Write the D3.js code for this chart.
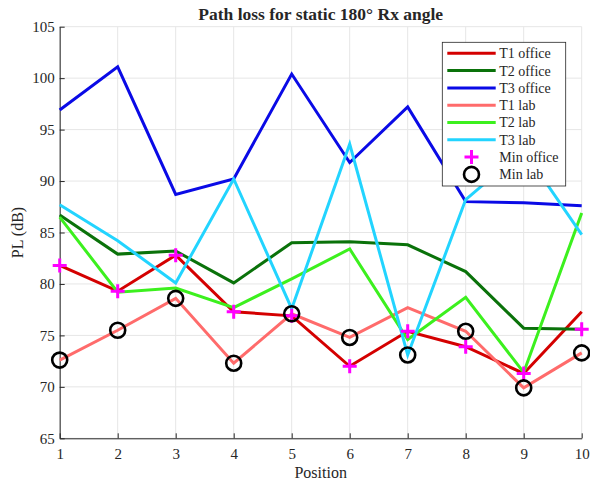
<!DOCTYPE html>
<html>
<head>
<meta charset="utf-8">
<script src="https://cdn.jsdelivr.net/npm/d3@7"></script>
<style>
  body { margin: 0; background: #fff; }
  text { font-family: "Liberation Serif", "Times New Roman", serif; fill: #262626; }
</style>
</head>
<body>
<svg id="chart" width="590" height="483"></svg>
<script>
// valores
const posicoes = [1, 2, 3, 4, 5, 6, 7, 8, 9, 10];
const t1Office = [81.8, 79.3, 82.8, 77.3, 76.9, 72.0, 75.4, 73.9, 71.3, 77.3];
const t2Office = [86.7, 82.9, 83.2, 80.1, 84.0, 84.1, 83.8, 81.2, 75.7, 75.6];
const t3Office = [96.9, 101.1, 88.7, 90.2, 100.4, 91.8, 97.2, 88.0, 87.9, 87.6];
const t1Lab = [72.6, 75.5, 78.6, 72.3, 77.1, 74.8, 77.7, 75.4, 69.9, 73.3];
const t2Lab = [86.5, 79.2, 79.6, 77.7, 80.5, 83.4, 74.6, 78.7, 71.4, 86.9];
const t3Lab = [87.7, 84.2, 80.1, 90.2, 77.6, 93.6, 73.1, 88.2, 93.0, 84.8];
const minOffice = [81.8, 79.3, 82.8, 77.3, 76.9, 72.0, 75.4, 73.9, 71.3, 75.6];
const minLab = [72.6, 75.5, 78.6, 72.3, 77.1, 74.8, 73.1, 75.4, 69.9, 73.3];
const yTicks = [65, 70, 75, 80, 85, 90, 95, 100, 105];

const series = [
    {nome: "T1 office", valores: t1Office, cor: "#d40000"},
    {nome: "T2 office", valores: t2Office, cor: "#0a720a"},
    {nome: "T3 office", valores: t3Office, cor: "#0a0ae6"},
    {nome: "T1 lab", valores: t1Lab, cor: "#ff6b6b"},
    {nome: "T2 lab", valores: t2Lab, cor: "#3cf01e"},
    {nome: "T3 lab", valores: t3Lab, cor: "#22d4ff"}
];

const fonte = "Liberation Serif, Times New Roman, serif";
const svg = d3.select("#chart");
const margin = {top: 26.7, right: 8.3, bottom: 44.7, left: 59.7};
const width = 590, height = 483;

const x = d3.scaleLinear().domain([1, 10]).range([margin.left, width - margin.right]);
const y = d3.scaleLinear().domain([65, 105]).range([height - margin.bottom, margin.top]);

// grade
svg.append("g").selectAll("line")
    .data(posicoes)
    .enter().append("line")
    .attr("x1", d => x(d)).attr("x2", d => x(d))
    .attr("y1", y(65)).attr("y2", y(105))
    .attr("stroke", "#e6e6e6").attr("stroke-width", 1);
svg.append("g").selectAll("line")
    .data(yTicks)
    .enter().append("line")
    .attr("x1", x(1)).attr("x2", x(10))
    .attr("y1", d => y(d)).attr("y2", d => y(d))
    .attr("stroke", "#e6e6e6").attr("stroke-width", 1);

// eixos
let eixoX = svg.append("g")
    .attr("transform", "translate(0," + y(65) + ")")
    .call(d3.axisBottom(x).tickValues(posicoes).tickFormat(d3.format("d")).tickSizeInner(-5).tickSizeOuter(0).tickPadding(10));
let eixoY = svg.append("g")
    .attr("transform", "translate(" + x(1) + ",0)")
    .call(d3.axisLeft(y).tickValues(yTicks).tickSizeInner(-5).tickSizeOuter(0).tickPadding(5));
[eixoX, eixoY].forEach(e => {
    e.attr("font-family", fonte);
    e.selectAll("path, line").attr("stroke", "#262626");
    e.selectAll("text").attr("fill", "#262626").attr("font-size", 15);
});

// linhas
const linha = d3.line()
    .x((d, i) => x(posicoes[i]))
    .y(d => y(d));

svg.append("g").selectAll("path")
    .data(series)
    .enter().append("path")
    .attr("d", d => linha(d.valores))
    .attr("fill", "none")
    .attr("stroke", d => d.cor)
    .attr("stroke-width", 3);

// marcadores
let cruz = (cx, cy, s) => "M" + (cx - s) + "," + cy + "H" + (cx + s) + "M" + cx + "," + (cy - s) + "V" + (cy + s);

svg.append("g").selectAll("path")
    .data(minOffice)
    .enter().append("path")
    .attr("d", (d, i) => cruz(x(posicoes[i]), y(d), 7))
    .attr("stroke", "#ff00ff")
    .attr("stroke-width", 3)
    .attr("fill", "none");

svg.append("g").selectAll("circle")
    .data(minLab)
    .enter().append("circle")
    .attr("cx", (d, i) => x(posicoes[i]))
    .attr("cy", d => y(d))
    .attr("r", 7.5)
    .attr("fill", "none")
    .attr("stroke", "#000")
    .attr("stroke-width", 2.6);

// titulo e rotulos
svg.append("text")
    .attr("x", (x(1) + x(10)) / 2)
    .attr("y", 20)
    .attr("text-anchor", "middle")
    .attr("font-family", fonte)
    .attr("font-weight", "bold")
    .attr("font-size", 17.5)
    .attr("fill", "#000")
    .text("Path loss for static 180° Rx angle");

svg.append("text")
    .attr("x", (x(1) + x(10)) / 2)
    .attr("y", 478)
    .attr("text-anchor", "middle")
    .attr("font-family", fonte)
    .attr("font-size", 16)
    .text("Position");

svg.append("text")
    .attr("transform", "translate(23," + ((y(65) + y(105)) / 2) + ") rotate(-90)")
    .attr("text-anchor", "middle")
    .attr("font-family", fonte)
    .attr("font-size", 16)
    .text("PL (dB)");

// legenda
const legX = 442.3, legY = 42.3;
svg.append("rect")
    .attr("x", legX).attr("y", legY)
    .attr("width", 123.4).attr("height", 143.7)
    .attr("fill", "#fff")
    .attr("stroke", "#262626")
    .attr("stroke-width", 0.8);

let legenda = svg.append("g")
    .attr("font-family", fonte)
    .selectAll("g")
    .data(series.map(s => s.nome).concat(["Min office", "Min lab"]))
    .enter().append("g")
    .attr("transform", (d, i) => "translate(0," + (legY + 11 + i * 17.3) + ")");

legenda.filter((d, i) => i < 6).append("line")
    .attr("x1", 447.3).attr("x2", 495.7)
    .attr("stroke", (d, i) => series[i].cor)
    .attr("stroke-width", 3);

legenda.filter(d => d == "Min office").append("path")
    .attr("d", cruz(471.5, 0, 7))
    .attr("stroke", "#ff00ff").attr("stroke-width", 3);

legenda.filter(d => d == "Min lab").append("circle")
    .attr("cx", 471.5).attr("r", 7.5)
    .attr("fill", "none").attr("stroke", "#000").attr("stroke-width", 2.6);

legenda.append("text")
    .attr("x", 499.3)
    .attr("dy", "0.35em")
    .attr("font-family", fonte)
    .attr("font-size", 14)
    .attr("fill", "#000")
    .text(d => d);
</script>
</body>
</html>
